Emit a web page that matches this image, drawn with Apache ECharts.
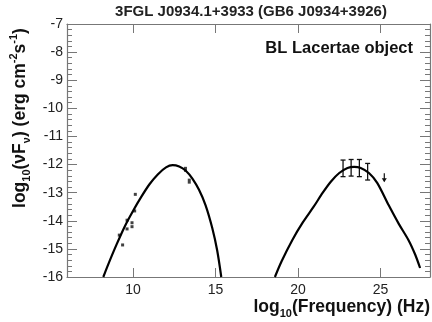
<!DOCTYPE html>
<html>
<head>
<meta charset="utf-8">
<script src="https://cdn.jsdelivr.net/npm/echarts@6/dist/echarts.min.js"></script>
<style>
html, body { margin: 0; padding: 0; background: #fff; }
#chart { width: 432px; height: 322px; }
</style>
</head>
<body>
<div id="chart"></div>
<script>
var xTicks = [10, 15, 20, 25];

// synchrotron bump
var syncCurve = [
	[8.2, -16.0], [8.5, -15.55], [9.0, -14.85], [9.5, -14.2], [10.0, -13.65],
	[10.5, -13.15], [11.0, -12.7], [11.5, -12.35], [12.0, -12.1], [12.4, -12.02],
	[12.8, -12.07], [13.2, -12.22], [13.6, -12.5], [14.0, -12.9], [14.4, -13.45],
	[14.8, -14.25], [15.1, -15.05], [15.35, -16.0]
];

// inverse compton bump
var icCurve = [
	[18.6, -16.0], [19.0, -15.45], [19.65, -14.69], [20.3, -14.05], [20.95, -13.5],
	[21.5, -13.0], [22.0, -12.6], [22.5, -12.3], [23.0, -12.12], [23.4, -12.08],
	[23.8, -12.12], [24.3, -12.3], [24.8, -12.65], [25.5, -13.45], [26.1, -14.1],
	[26.7, -14.69], [27.1, -15.2], [27.4, -15.68]
];

var radioPts = [
	[10.14, -13.06], [10.1, -13.65], [9.64, -13.98], [9.94, -14.07], [9.94, -14.21],
	[9.64, -14.29], [9.17, -14.51], [9.37, -14.86]
];
var optPts = [[13.18, -12.17], [13.41, -12.59]];

// fermi bands: x, low, high
var latBands = [
	[22.73, -12.43, -11.84], [23.22, -12.41, -11.82], [23.72, -12.43, -11.82], [24.22, -12.55, -11.96]
];
var upperLim = [[25.23, -12.31]];

var chart = echarts.init(document.getElementById('chart'));

var axisCol = '#777';
var fam = 'Liberation Sans, Arial, sans-serif';
var labelFont = { color: '#222', fontSize: 14, fontFamily: fam };

function bandItem(params, api) {
	var p1 = api.coord([api.value(0), api.value(1)]);
	var p2 = api.coord([api.value(0), api.value(2)]);
	var st = { stroke: '#111', lineWidth: 1.3 };
	return {
		type: 'group',
		children: [
			{ type: 'line', shape: { x1: p1[0], y1: p1[1], x2: p2[0], y2: p2[1] }, style: st },
			{ type: 'line', shape: { x1: p1[0] - 2.5, y1: p1[1], x2: p1[0] + 2.5, y2: p1[1] }, style: st },
			{ type: 'line', shape: { x1: p2[0] - 2.5, y1: p2[1], x2: p2[0] + 2.5, y2: p2[1] }, style: st }
		]
	};
}

function limitItem(params, api) {
	var p = api.coord([api.value(0), api.value(1)]);
	var st = { stroke: '#111', lineWidth: 1.2 };
	return {
		type: 'group',
		children: [
			{ type: 'line', shape: { x1: p[0], y1: p[1], x2: p[0], y2: p[1] + 8 }, style: st },
			{ type: 'polygon', shape: { points: [[p[0] - 2.5, p[1] + 5], [p[0] + 2.5, p[1] + 5], [p[0], p[1] + 9]] }, style: { fill: '#111' } }
		]
	};
}

var option = {
	animation: false,
	backgroundColor: '#fff',
	grid: { left: 67, right: 2, top: 24, bottom: 45 },
	xAxis: [{
		type: 'value', min: 6, max: 28,
		axisLine: { show: true, lineStyle: { color: axisCol, width: 1.2 } },
		axisTick: { show: true, inside: true, length: 9, customValues: xTicks, lineStyle: { color: axisCol } },
		axisLabel: Object.assign({ customValues: xTicks, margin: 6 }, labelFont),
		splitLine: { show: false }
	}, {
		type: 'value', min: 6, max: 28, position: 'top',
		axisLine: { show: true, lineStyle: { color: axisCol, width: 1.2 } },
		axisTick: { show: true, inside: true, length: 9, customValues: xTicks, lineStyle: { color: axisCol } },
		axisLabel: { show: false },
		splitLine: { show: false }
	}],
	yAxis: [{
		type: 'value', min: -16, max: -7, interval: 1,
		axisLine: { show: true, lineStyle: { color: axisCol, width: 1.2 } },
		axisTick: { show: true, inside: true, length: 10, lineStyle: { color: axisCol } },
		minorTick: { show: true, splitNumber: 5, length: 5, lineStyle: { color: axisCol } },
		axisLabel: Object.assign({ margin: 4 }, labelFont),
		splitLine: { show: false }
	}, {
		type: 'value', min: -16, max: -7, interval: 1, position: 'right',
		axisLine: { show: true, lineStyle: { color: axisCol, width: 1.2 } },
		axisTick: { show: true, inside: true, length: 10, lineStyle: { color: axisCol } },
		minorTick: { show: true, splitNumber: 5, length: 5, lineStyle: { color: axisCol } },
		axisLabel: { show: false },
		splitLine: { show: false }
	}],
	graphic: [{
		type: 'text', x: 251, y: 12,
		style: { text: '3FGL J0934.1+3933 (GB6 J0934+3926)', fill: '#222', font: 'bold 15px ' + fam, align: 'center', verticalAlign: 'middle' }
	}, {
		type: 'text', x: 413, y: 48,
		style: { text: 'BL Lacertae object', fill: '#111', font: 'bold 16.5px ' + fam, align: 'right', verticalAlign: 'middle' }
	}, {
		type: 'text', x: 430, y: 307,
		style: {
			text: '{n|log}{s|10}{n|(Frequency) (Hz)}', align: 'right', verticalAlign: 'middle', fill: '#111',
			rich: {
				n: { font: 'bold 17.5px ' + fam, lineHeight: 24, verticalAlign: 'middle' },
				s: { font: 'bold 11px ' + fam, lineHeight: 24, verticalAlign: 'bottom' }
			}
		}
	}, {
		type: 'text', x: 20, y: 118, rotation: Math.PI / 2,
		style: {
			text: '{n|log}{s|10}{n|(νF}{s|ν}{n|) (erg cm}{p|-2}{n|s}{p|-1}{n|)}', align: 'center', verticalAlign: 'middle', fill: '#111',
			rich: {
				n: { font: 'bold 17.5px ' + fam, lineHeight: 24, verticalAlign: 'middle' },
				s: { font: 'bold 11px ' + fam, lineHeight: 24, verticalAlign: 'bottom' },
				p: { font: 'bold 11px ' + fam, lineHeight: 24, verticalAlign: 'top' }
			}
		}
	}],
	series: [{
		type: 'line', data: syncCurve, smooth: 0.3, showSymbol: false,
		lineStyle: { color: '#000', width: 2.2 }
	}, {
		type: 'line', data: icCurve, smooth: 0.3, showSymbol: false,
		lineStyle: { color: '#000', width: 2.2 }
	}, {
		type: 'scatter', data: radioPts, symbol: 'rect', symbolSize: 3,
		itemStyle: { color: '#111' }
	}, {
		type: 'scatter', data: optPts, symbol: 'rect', symbolSize: [3, 5],
		itemStyle: { color: '#111' }
	}, {
		type: 'custom', data: latBands, renderItem: bandItem
	}, {
		type: 'custom', data: upperLim, renderItem: limitItem
	}]
};

chart.setOption(option);
</script>
</body>
</html>
